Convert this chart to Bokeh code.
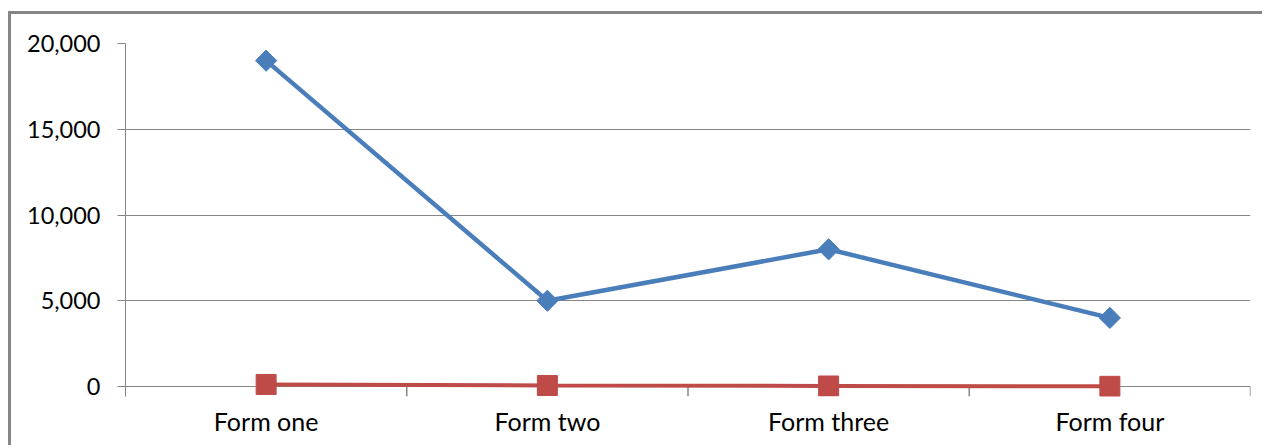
import math
from bokeh.plotting import figure
from bokeh.models import Range1d, FixedTicker, NumeralTickFormatter, ColumnDataSource
from bokeh.embed import file_html
from bokeh.resources import INLINE

# Chart data
categories = ["Form one", "Form two", "Form three", "Form four"]
series_a = [19000, 5000, 8000, 4000]
series_b = [120, 60, 30, 10]
y_ticks = [0, 5000, 10000, 15000, 20000]

GRID = "#868686"
FONT = "Lato"
BLUE = "#4A7EBB"
RED = "#BE4B48"

# plot frame geometry (pixels inside the figure)
FRAME_H_VALUE = 343        # pixels spanned by 0..20000
BELOW_ZERO = 10            # frame continues a little below zero for the axis ticks
y_start = -BELOW_ZERO * 20000 / FRAME_H_VALUE

x_pos = [i + 0.5 for i in range(len(categories))]
src = ColumnDataSource(dict(x=x_pos, a=series_a, b=series_b))

p = figure(width=1254, height=434, output_backend="svg", toolbar_location=None,
           x_range=Range1d(0, len(categories)), y_range=Range1d(y_start, 20000),
           min_border_left=114, min_border_right=15, min_border_top=29,
           min_border_bottom=52)
p.outline_line_color = None
p.background_fill_color = "white"
p.border_fill_color = "white"
# chart area border on the top and left edges
p.styles = {"border-left": f"3px solid {GRID}", "border-top": f"3px solid {GRID}",
            "margin-left": "8px", "margin-top": "11px"}

# category axis: labels centred under each category
p.xaxis.ticker = FixedTicker(ticks=x_pos)
p.xaxis.major_label_overrides = {x: c for x, c in zip(x_pos, categories)}
p.xaxis.major_tick_line_color = None
p.xaxis.minor_tick_line_color = None
p.xaxis.axis_line_color = None
p.xaxis.major_label_standoff = 3
p.xaxis.major_label_text_font_size = "25px"
p.xgrid.grid_line_color = None

# tick marks between categories, hanging below the zero line
bounds = list(range(1, len(categories) + 1))
p.segment(x0=bounds, y0=[0] * len(bounds), x1=bounds, y1=[y_start] * len(bounds),
          line_color=GRID, line_width=1.5)

# value axis
p.yaxis.ticker = FixedTicker(ticks=y_ticks)
p.yaxis.formatter = NumeralTickFormatter(format="0,0")
p.yaxis.major_tick_out = 8
p.yaxis.major_tick_in = 0
p.yaxis.minor_tick_line_color = None
p.yaxis.major_tick_line_color = GRID
p.yaxis.axis_line_color = GRID
p.yaxis.major_label_standoff = 17
p.yaxis.major_label_text_font_size = "23.5px"
p.ygrid.grid_line_color = GRID
p.ygrid.grid_line_width = 1

for ax in (p.xaxis, p.yaxis):
    ax.major_label_text_font = FONT
    ax.major_label_text_color = "#000000"

# series lines and markers
p.line("x", "a", source=src, line_color=BLUE, line_width=4.5)
p.scatter("x", "a", source=src, marker="square", angle=math.pi / 4, size=15,
          fill_color=BLUE, line_color=BLUE)
p.line("x", "b", source=src, line_color=RED, line_width=4)
p.scatter("x", "b", source=src, marker="square", size=20,
          fill_color=RED, line_color=RED)

open("out.html", "w").write(file_html(p, INLINE))
